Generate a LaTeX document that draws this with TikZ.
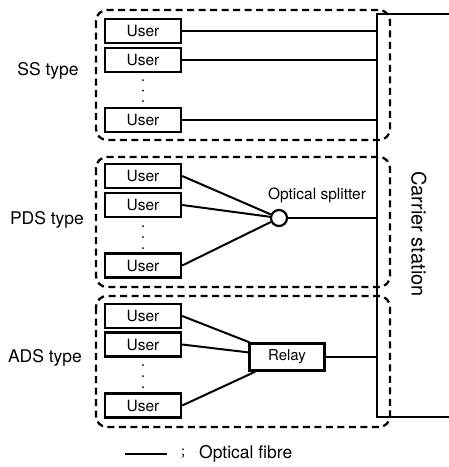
\documentclass[tikz,border=0pt]{standalone}
\usepackage{fontspec}
\setmainfont{TeX Gyre Heros}
\newfontfamily\cjk{Noto Sans CJK SC}
\usepackage{tikz}
\usetikzlibrary{calc}

\begin{document}
\begin{tikzpicture}[x=1pt,y=-1pt]
      \tikzset{userbox/.style={draw,line width=2.4pt,
          minimum width=76pt,
          minimum height=24pt,
          inner sep=0pt,
          font=\fontsize{15.5}{18}\selectfont},
        fibre/.style={line width=2pt},
        group/.style={dashed,line width=2.3pt,dash pattern=on 7pt off 4.5pt,rounded corners=11pt},
        sidelabel/.style={font=\fontsize{17.5}{20}\selectfont}
      }
      \useasboundingbox (0,0) rectangle (449,467);

      \coordinate (ctop) at (377,14);
      \coordinate (cbot) at (377,417);
      \coordinate (etop) at (449,14);
      \coordinate (ebot) at (449,417);
      \draw [line width=2.4pt] (etop) -- (ctop) -- (cbot) -- (ebot);
      \node [font=\fontsize{20}{24}\selectfont, rotate=-90] (CS) at (419,234) {Carrier station};

      \draw [group] (96,10) rectangle (390,140);
      \draw [group] (96,157) rectangle (390,287);
      \draw [group] (96,296) rectangle (390,427);

      \node [sidelabel] (SS) at (48,71) {SS type};
      \node [sidelabel] (PDS) at (47,220) {PDS type};
      \node [sidelabel] (ADS) at (45,358) {ADS type};

      \node [userbox] (s1) at (143,31) {User};
      \node [userbox] (s2) at (143,60) {User};
      \node [userbox] (s3) at (143,120) {User};
      \foreach \y in {80,90.5,101} \fill (143,\y) circle (1pt);
      \foreach \u in {s1,s2,s3}
        \draw [fibre] (\u.east) -- (\u.east -| ctop);

      \node [userbox] (p1) at (143,176) {User};
      \node [userbox] (p2) at (143,205) {User};
      \node [userbox] (p3) at (143,265.5) {User};
      \foreach \y in {226,237,248} \fill (143,\y) circle (1pt);
      \node [draw, circle, line width=2.2pt, minimum size=16pt, inner sep=0pt] (split) at (279,218) {};
      \node [font=\fontsize{15.5}{18}\selectfont] (splab) at (317,195) {Optical splitter};
      \foreach \u in {p1,p2,p3}
        \draw [fibre] (\u.east) -- (split);
      \draw [fibre] (split) -- (split -| ctop);

      \node [userbox] (a1) at (143,316) {User};
      \node [userbox] (a2) at (143,344.5) {User};
      \node [userbox] (a3) at (143,405.5) {User};
      \foreach \y in {365,376,387} \fill (143,\y) circle (1pt);
      \node [userbox, minimum width=75pt, minimum height=27pt, font=\fontsize{15}{17}\selectfont] (relay) at (287,357) {Relay};
      \foreach \u in {a1,a2,a3}
        \draw [fibre] (\u.east) -- (relay);
      \draw [fibre] (relay.east) -- (relay.east -| ctop);

      \coordinate (la) at (125,454);
      \coordinate (lb) at (167,454);
      \draw [line width=2.4pt] (la) -- (lb);
      \node [font=\cjk\fontsize{12}{14}\selectfont] (semi) at (186,454) {；};
      \node [sidelabel, anchor=west, inner sep=0pt] (legend) at (199,454) {Optical fibre};
    \end{tikzpicture}
\end{document}
